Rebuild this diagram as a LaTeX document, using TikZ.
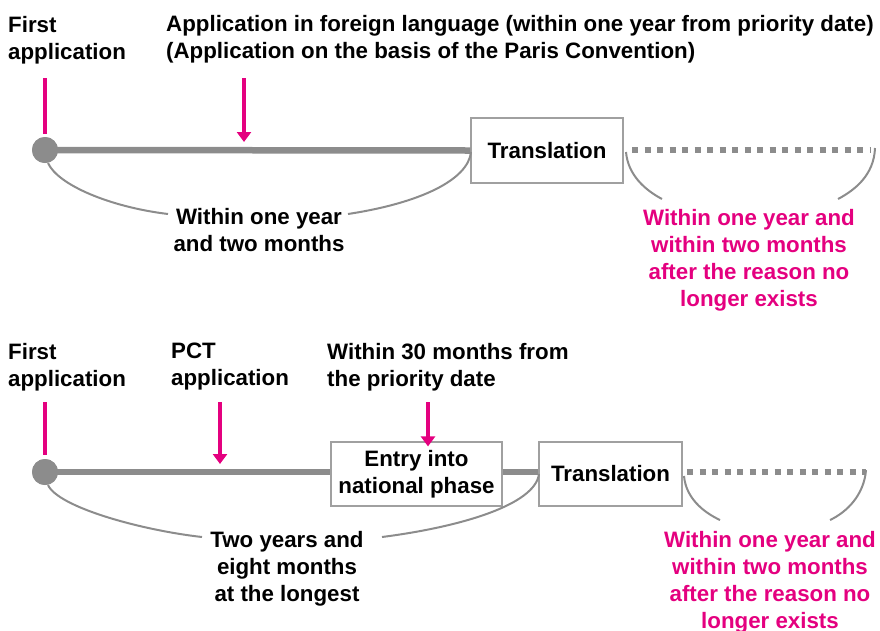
\documentclass[tikz,border=0pt]{standalone}
\usepackage{fontspec}
\setmainfont{Liberation Sans}
\usetikzlibrary{arrows.meta}
\definecolor{pinkc}{HTML}{E4007F}
\definecolor{grayc}{HTML}{8C8C8C}
\definecolor{boxc}{HTML}{A0A0A0}
\begin{document}
\begin{tikzpicture}[x=1pt,y=-1pt,
  lbl/.style={font=\fontsize{22.3}{27}\selectfont\bfseries, inner sep=0pt, align=left, anchor=north west},
  clbl/.style={lbl, align=center, anchor=north},
  plbl/.style={clbl, text=pinkc},
  tbox/.style={draw=boxc, line width=1.2pt, fill=white, font=\fontsize{22.3}{27}\selectfont\bfseries, align=center, inner sep=0pt},
  tline/.style={grayc, line width=6.5pt},
  dline/.style={grayc, line width=6pt, dash pattern=on 6pt off 6.5pt},
  bracecurve/.style={grayc, line width=2pt},
  pinkarrow/.style={pinkc, line width=4pt, -{Triangle[width=14pt,length=10pt]}},
  pinkline/.style={pinkc, line width=4pt},
  dotc/.style={circle, fill=grayc, minimum size=26pt, inner sep=0pt}
]
\useasboundingbox (0,0) rectangle (880,630);

% ---------- top timeline ----------
\node[lbl] (first1) at (8,16) {First\\application};
\node[lbl] (app1) at (166,15) {Application in foreign language (within one year from priority date)\\(Application on the basis of the Paris Convention)};

\coordinate (p1s) at (45,78);  \coordinate (p1e) at (45,134);
\coordinate (a1s) at (244,78); \coordinate (a1e) at (244,142);
\draw[pinkline] (p1s) -- (p1e);
\draw[pinkarrow] (a1s) -- (a1e);

\node[tbox, minimum width=152pt, minimum height=65pt] (tr1) at (547,150.5) {Translation};
\node[dotc] (c1) at (45,150) {};
\draw[tline] (c1.center) -- (tr1.west);
\node[dotc] at (c1) {};

\coordinate (d1s) at (632,150); \coordinate (d1e) at (871,150);
\draw[dline] (d1s) -- (d1e);

\coordinate (b1a) at (48,163);  \coordinate (b1b) at (168,214);
\coordinate (b1c) at (348,214); \coordinate (b1d) at (471,152);
\draw[bracecurve] (b1a) .. controls (58,185) and (110,207) .. (b1b);
\draw[bracecurve] (b1c) .. controls (420,203) and (468,180) .. (b1d);
\node[clbl] (t1) at (259,208) {Within one year\\and two months};

\coordinate (r1a) at (626,152); \coordinate (r1b) at (662,199);
\coordinate (r1c) at (838,199); \coordinate (r1d) at (875,148);
\draw[bracecurve] (r1a) .. controls (628,175) and (645,190) .. (r1b);
\draw[bracecurve] (r1c) .. controls (855,190) and (874,175) .. (r1d);
\node[plbl] (pt1) at (749,209) {Within one year and\\within two months\\after the reason no\\longer exists};

% ---------- bottom timeline ----------
\node[lbl] (first2) at (8,343) {First\\application};
\node[lbl] (pct) at (171,343) {PCT\\application};
\node[lbl] (w30) at (327,343) {Within 30 months from\\the priority date};

\coordinate (p2s) at (45,402);  \coordinate (p2e) at (45,455);
\coordinate (a2s) at (220,402); \coordinate (a2e) at (220,464);
\draw[pinkline] (p2s) -- (p2e);
\draw[pinkarrow] (a2s) -- (a2e);

\node[tbox, minimum width=171pt, minimum height=64pt] (entry) at (416.5,474) {Entry into\\national phase};
\node[tbox, minimum width=143pt, minimum height=64pt] (tr2) at (610.5,474) {Translation};
\coordinate (a3s) at (428,402);
\draw[pinkarrow] (a3s) -- ([yshift=-5pt]entry.north -| a3s);

\node[dotc] (c2) at (45,472) {};
\draw[tline] (c2.center) -- (c2.center -| entry.west);
\node[dotc] at (c2) {};
\draw[tline] (entry.east |- c2) -- (tr2.west |- c2);

\coordinate (d2s) at (687,472); \coordinate (d2e) at (866,472);
\draw[dline] (d2s) -- (d2e);

\coordinate (b2a) at (48,485);  \coordinate (b2b) at (202,537);
\coordinate (b2c) at (382,537); \coordinate (b2d) at (539,474);
\draw[bracecurve] (b2a) .. controls (58,507) and (140,530) .. (b2b);
\draw[bracecurve] (b2c) .. controls (460,527) and (535,505) .. (b2d);
\node[clbl] (t2) at (287,531) {Two years and\\eight months\\at the longest};

\coordinate (r2a) at (684,476); \coordinate (r2b) at (720,520);
\coordinate (r2c) at (830,520); \coordinate (r2d) at (866,470);
\draw[bracecurve] (r2a) .. controls (686,498) and (703,512) .. (r2b);
\draw[bracecurve] (r2c) .. controls (847,512) and (864,495) .. (r2d);
\node[plbl] (pt2) at (770,531) {Within one year and\\within two months\\after the reason no\\longer exists};
\end{tikzpicture}
\end{document}
